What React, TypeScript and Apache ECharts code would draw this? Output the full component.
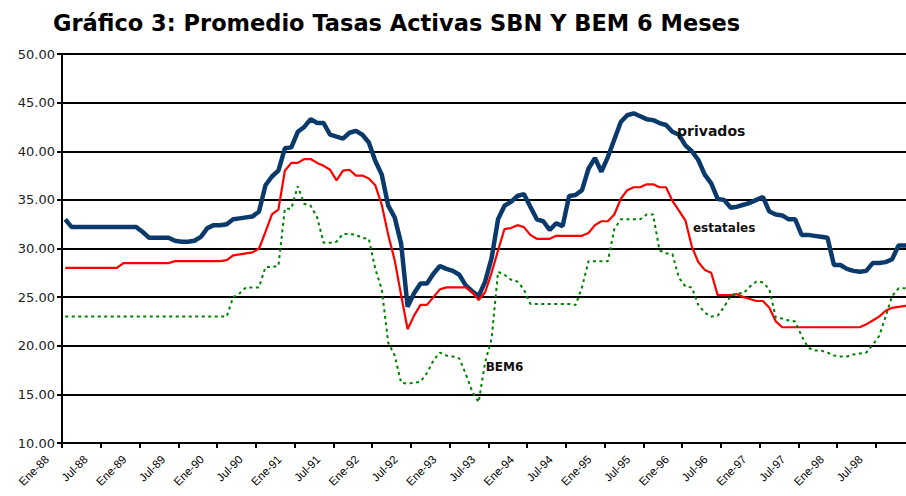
import React, { useEffect, useRef } from 'react';
import * as echarts from 'echarts';

const MONTHS = ['Ene', 'Feb', 'Mar', 'Abr', 'May', 'Jun', 'Jul', 'Ago', 'Sep', 'Oct', 'Nov', 'Dic'];
const YEARS = ['88', '89', '90', '91', '92', '93', '94', '95', '96', '97', '98'];
const categories = YEARS.flatMap((y) => MONTHS.map((m) => `${m}-${y}`));

const TITLE = 'Gráfico 3: Promedio Tasas Activas SBN Y BEM 6 Meses';
const SERIES_NAMES = ['privados', 'estatales', 'BEM6'];

const privados = [
  33.0, 32.2, 32.2, 32.2, 32.2, 32.2, 32.2, 32.2, 32.2, 32.2, 32.2, 32.2,
  31.7, 31.1, 31.1, 31.1, 31.1, 30.8, 30.7, 30.7, 30.8, 31.2, 32.1, 32.4,
  32.4, 32.5, 33.0, 33.1, 33.2, 33.3, 33.8, 36.5, 37.4, 38.0, 40.3, 40.4,
  42.0, 42.5, 43.3, 42.9, 42.9, 41.7, 41.5, 41.3, 41.9, 42.1, 41.7, 40.9,
  39.0, 37.6, 34.4, 33.2, 30.5, 24.0, 25.4, 26.4, 26.4, 27.4, 28.2, 27.9,
  27.7, 27.3, 26.2, 25.6, 25.1, 26.6, 29.0, 33.0, 34.4, 34.8, 35.4, 35.6,
  34.3, 33.0, 32.8, 31.9, 32.6, 32.3, 35.4, 35.5, 36.0, 38.2, 39.3, 37.9,
  39.4, 41.2, 43.0, 43.7, 43.9, 43.6, 43.3, 43.2, 42.9, 42.7, 42.0, 41.7,
  40.6, 40.0, 39.1, 37.6, 36.7, 35.1, 35.0, 34.2, 34.3, 34.5, 34.7, 35.0,
  35.3, 33.8, 33.5, 33.4, 33.0, 33.0, 31.4, 31.4, 31.3, 31.2, 31.1, 28.3,
  28.3, 27.9, 27.7, 27.6, 27.7, 28.5, 28.5, 28.6, 28.9, 30.3, 30.3, 30.3,
];

const estatales = [
  28.0, 28.0, 28.0, 28.0, 28.0, 28.0, 28.0, 28.0, 28.0, 28.5, 28.5, 28.5,
  28.5, 28.5, 28.5, 28.5, 28.5, 28.7, 28.7, 28.7, 28.7, 28.7, 28.7, 28.7,
  28.7, 28.8, 29.3, 29.4, 29.5, 29.6, 30.0, 31.7, 33.5, 34.0, 38.0, 38.8,
  38.8, 39.2, 39.2, 38.8, 38.5, 38.1, 37.0, 38.0, 38.1, 37.5, 37.5, 37.2,
  36.5, 34.5, 31.4, 28.8, 25.2, 21.7, 23.1, 24.2, 24.2, 25.0, 25.8, 26.0,
  26.0, 26.0, 26.0, 25.5, 24.7, 25.5, 27.5, 29.8, 32.0, 32.1, 32.4, 32.2,
  31.4, 31.0, 31.0, 31.0, 31.3, 31.3, 31.3, 31.3, 31.3, 31.6, 32.4, 32.8,
  32.8, 33.5, 35.1, 36.0, 36.3, 36.3, 36.6, 36.6, 36.3, 36.3, 34.9, 33.9,
  32.9, 30.2, 28.6, 27.8, 27.5, 25.2, 25.2, 25.2, 25.3, 25.0, 24.8, 24.6,
  24.6, 23.9, 22.5, 21.9, 21.9, 21.9, 21.9, 21.9, 21.9, 21.9, 21.9, 21.9,
  21.9, 21.9, 21.9, 21.9, 22.2, 22.6, 23.0, 23.6, 23.9, 24.0, 24.1, 24.3,
];

const bem6 = [
  23.0, 23.0, 23.0, 23.0, 23.0, 23.0, 23.0, 23.0, 23.0, 23.0, 23.0, 23.0,
  23.0, 23.0, 23.0, 23.0, 23.0, 23.0, 23.0, 23.0, 23.0, 23.0, 23.0, 23.0,
  23.0, 23.0, 25.0, 25.4, 26.0, 26.0, 26.0, 28.1, 28.1, 28.2, 34.1, 34.1,
  36.4, 34.6, 34.4, 33.2, 30.6, 30.6, 30.7, 31.5, 31.5, 31.4, 31.1, 31.0,
  27.9, 25.8, 20.3, 19.0, 16.2, 16.1, 16.2, 16.3, 17.2, 18.5, 19.3, 19.0,
  18.9, 18.7, 17.1, 15.3, 14.2, 18.3, 20.7, 27.6, 27.3, 26.8, 26.6, 25.8,
  24.3, 24.3, 24.3, 24.3, 24.3, 24.3, 24.3, 24.2, 26.0, 28.7, 28.7, 28.7,
  28.7, 32.0, 33.0, 33.0, 33.0, 33.0, 33.5, 33.5, 29.8, 29.5, 29.4, 27.0,
  26.1, 26.0, 24.2, 23.4, 23.0, 23.1, 24.0, 25.1, 25.4, 25.4, 26.1, 26.6,
  26.5, 25.8, 22.9, 22.8, 22.6, 22.5, 21.0, 19.8, 19.5, 19.5, 19.3, 19.0,
  18.9, 18.9, 19.1, 19.2, 19.3, 20.1, 21.0, 23.0, 25.1, 25.9, 25.9, 25.9,
];

// annotation anchors: [category index, value]
const LABEL_POS: Record<string, [number, number]> = {
  privados: [100, 42.1],
  estatales: [102, 32.1],
  BEM6: [68, 17.8],
};

export default function App() {
  const ref = useRef<HTMLDivElement>(null);
  useEffect(() => {
    document.body.style.margin = '0';
    const chart = echarts.init(ref.current!, null, { renderer: 'svg' });
    const mk = (name: string, size: number) => ({
      symbol: 'circle',
      symbolSize: 0,
      silent: true,
      label: {
        show: true,
        position: 'inside',
        formatter: name,
        fontFamily: 'DejaVu Sans',
        fontWeight: 'bold',
        fontSize: size,
        color: '#111',
      },
      data: [{ coord: LABEL_POS[name] }],
    });
    chart.setOption({
      animation: false,
      backgroundColor: '#fff',
      title: {
        text: TITLE,
        left: 48,
        top: 6,
        textStyle: { fontFamily: 'DejaVu Sans', fontWeight: 'bold', fontSize: 22.5, color: '#000' },
      },
      grid: { left: 62, right: 15.3, top: 54, bottom: 53 },
      xAxis: {
        type: 'category',
        data: categories,
        boundaryGap: true,
        axisLine: { lineStyle: { color: '#000', width: 2 } },
        axisTick: { show: true, interval: (i: number) => i % 6 === 0, length: 5, lineStyle: { color: '#000', width: 2 } },
        axisLabel: {
          interval: (i: number) => i % 6 === 0,
          rotate: 45,
          margin: -4,
          padding: [0, 26, 0, 0],
          fontFamily: 'Liberation Sans',
          fontSize: 11.5,
          color: '#000',
        },
        splitLine: { show: false },
      },
      yAxis: {
        type: 'value',
        min: 10,
        max: 50,
        interval: 5,
        axisLine: { show: true, lineStyle: { color: '#000', width: 2 } },
        axisTick: { show: true, length: 5, lineStyle: { color: '#000', width: 2 } },
        axisLabel: {
          formatter: (v: number) => v.toFixed(2),
          margin: 7,
          fontFamily: 'DejaVu Sans',
          fontSize: 13,
          color: '#222',
        },
        splitLine: { show: true, lineStyle: { color: '#000', width: 2 } },
      },
      series: [
        {
          name: SERIES_NAMES[0],
          type: 'line',
          data: privados,
          symbol: 'none',
          lineStyle: { color: '#0a3a6b', width: 4.5 },
          markPoint: mk('privados', 14),
        },
        {
          name: SERIES_NAMES[1],
          type: 'line',
          data: estatales,
          symbol: 'none',
          lineStyle: { color: '#ff0000', width: 2.2 },
          markPoint: mk('estatales', 12),
        },
        {
          name: SERIES_NAMES[2],
          type: 'line',
          data: bem6,
          symbol: 'none',
          lineStyle: { color: '#008000', width: 2, type: [3, 3.5] },
          markPoint: mk('BEM6', 12),
        },
      ],
    });
    return () => chart.dispose();
  }, []);
  return (
    <div style={{ position: 'fixed', left: 0, top: 0, width: 906, height: 496, overflow: 'hidden', background: '#fff' }}>
      <div ref={ref} style={{ width: 930, height: 496 }} />
    </div>
  );
}
